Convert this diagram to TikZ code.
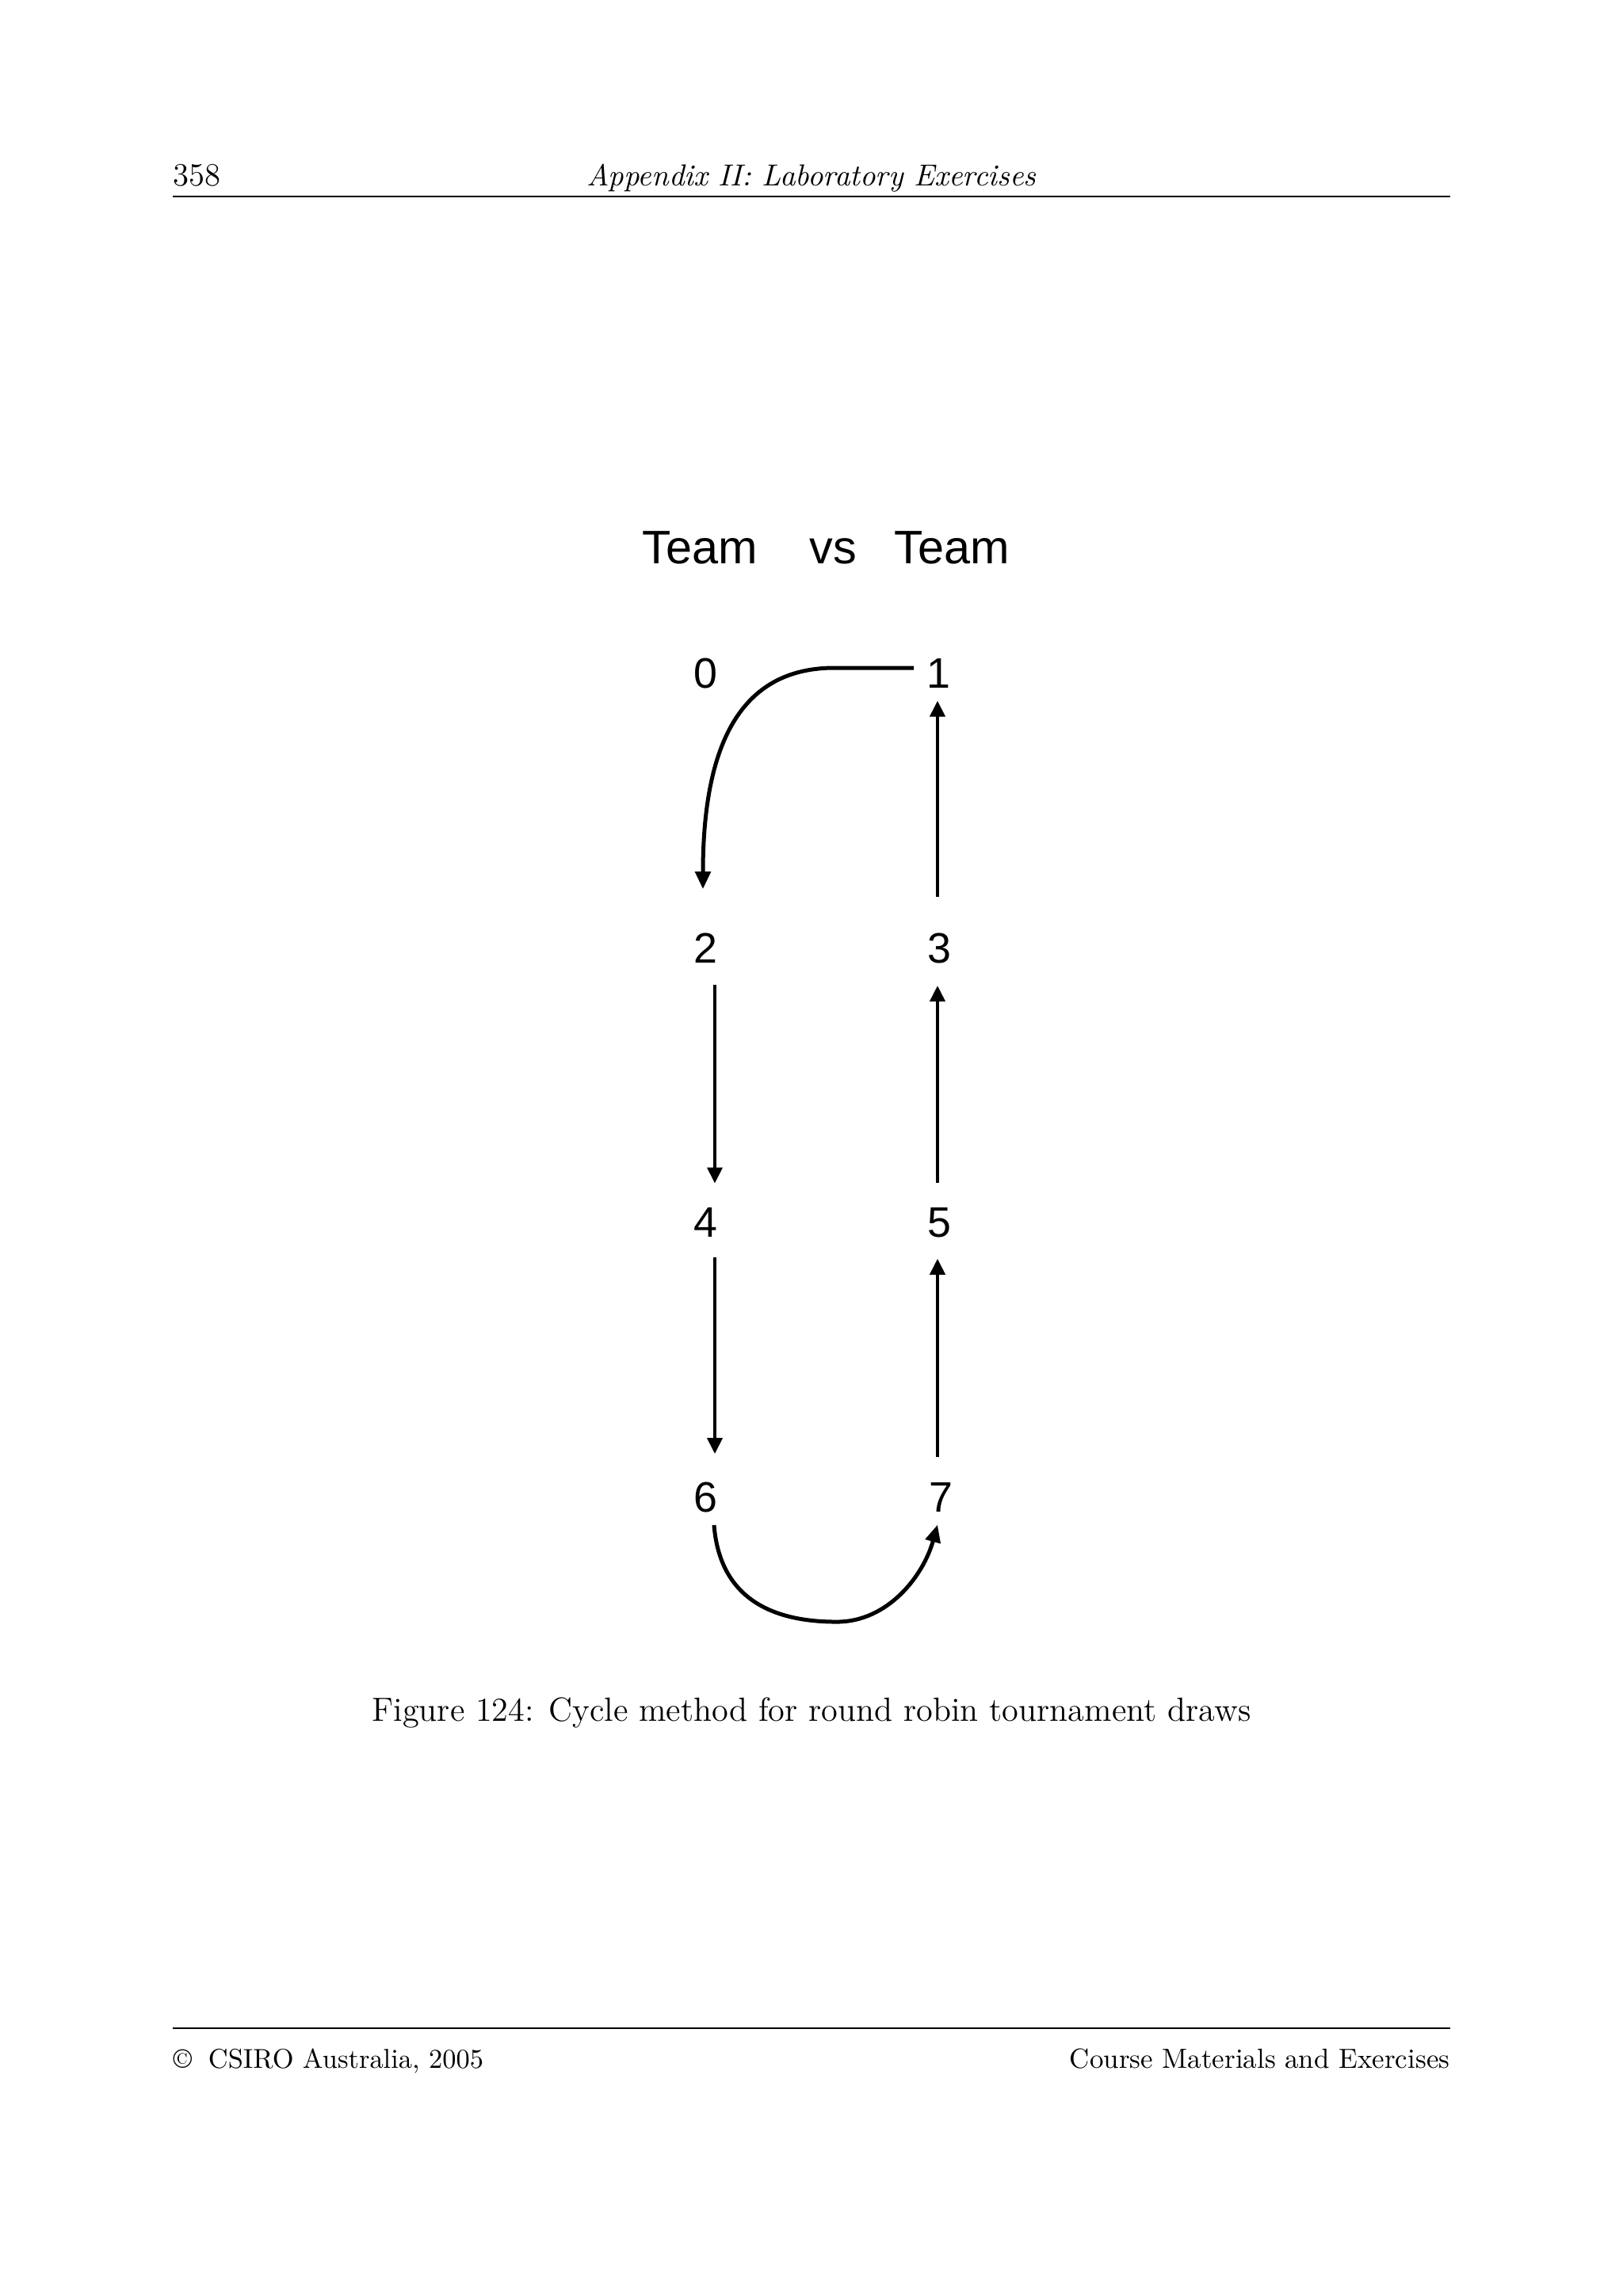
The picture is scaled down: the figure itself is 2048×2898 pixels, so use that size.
\documentclass[tikz,border=0pt]{standalone}
\usepackage{fontspec}
\newfontfamily\arialfont{Liberation Sans}
\usetikzlibrary{arrows.meta}
\begin{document}
\begin{tikzpicture}[x=0.1mm,y=-0.1mm,
  digit/.style={font=\arialfont\fontsize{15.3}{15.3}\selectfont, inner sep=0pt, outer sep=0pt},
  teamlabel/.style={font=\arialfont\fontsize{16.9}{16.9}\selectfont, inner sep=0pt, anchor=base west},
  arr/.style={line width=0.4mm, -{Triangle[width=1.9mm,length=2.0mm]}},
  curvearr/.style={line width=0.5mm, -{Triangle[width=1.9mm,length=2.2mm]}},
  pagetext/.style={inner sep=0pt},
  rulestyle/.style={line width=0.15mm}]
\useasboundingbox[fill=white] (0,0) rectangle (2048,2898);

% running head
\node[pagetext, anchor=base west, font=\fontsize{11.6}{14}\selectfont] (pnum) at (218,234) {358};
\node[pagetext, anchor=base, font=\fontsize{10.9}{13}\selectfont\itshape] (htitle) at (1024,234) {Appendix II: Laboratory Exercises};
\draw[rulestyle] (218,248) -- (1830,248);

% column titles
\node[teamlabel] (teamA) at (810,711) {Team};
\node[teamlabel] (vs) at (1021,711) {vs};
\node[teamlabel] (teamB) at (1128,711) {Team};

% team numbers
\node[digit] (n0) at (890,850) {0};
\node[digit] (n1) at (1184,850) {1};
\node[digit] (n2) at (890,1197) {2};
\node[digit] (n3) at (1185,1197) {3};
\node[digit] (n4) at (890,1543) {4};
\node[digit] (n5) at (1185,1543) {5};
\node[digit] (n6) at (890,1890) {6};
\node[digit] (n7) at (1187,1890) {7};

% straight arrows
\draw[arr] ([shift={(-2,-46)}]n3.north) -- ([shift={(-1,16)}]n1.south);
\draw[arr] ([shift={(12,27)}]n2.south) -- ([shift={(12,-31)}]n4.north);
\draw[arr] ([shift={(-2,-31)}]n5.north) -- ([shift={(-2,28)}]n3.south);
\draw[arr] ([shift={(12,25)}]n4.south) -- ([shift={(12,-36)}]n6.north);
\draw[arr] ([shift={(-4,-33)}]n7.north) -- ([shift={(-2,27)}]n5.south);

% curved arrows
\draw[curvearr] ([shift={(-16,-7)}]n1.west) -- ++(-100,0)
   .. controls +(-113,0) and +(0,-192) .. ([shift={(-3,-56)}]n2.north);
\draw[curvearr] ([shift={(11,16)}]n6.south)
   .. controls +(8,100) and +(-71,0) .. ++(155,122)
   .. controls +(64,0) and +(-18,65) .. ([shift={(-4,16)}]n7.south);

% caption
\node[pagetext, anchor=base, font=\fontsize{12.05}{15}\selectfont] (caption) at (1024,2172) {Figure 124: Cycle method for round robin tournament draws};

% footer
\draw[rulestyle] (218,2560) -- (1830,2560);
\node[pagetext, anchor=base west, font=\fontsize{9.8}{12}\selectfont] (footL) at (218,2610) {\textcopyright\hspace{0.6em}CSIRO Australia, 2005};
\node[pagetext, anchor=base east, font=\fontsize{9.95}{12}\selectfont] (footR) at (1830,2610) {Course Materials and Exercises};
\end{tikzpicture}
\end{document}
